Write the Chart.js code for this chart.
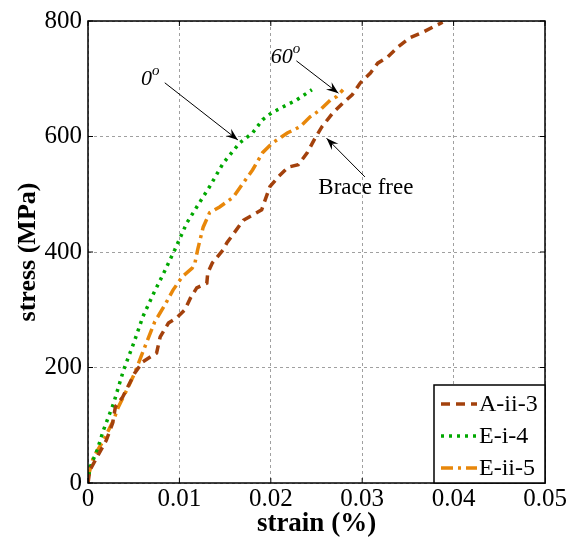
<!DOCTYPE html>
<html>
<head>
<meta charset="utf-8">
<script src="https://cdn.jsdelivr.net/npm/chart.js@4"></script>
<style>
  html, body { margin: 0; padding: 0; background: #fff; }
  #wrap { width: 573px; height: 551px; }
</style>
</head>
<body>
<div id="wrap"><canvas id="myChart" width="573" height="551"></canvas></div>
<script>
// --- data (strain %, stress MPa) ---
const seriesNames = ['A-ii-3', 'E-i-4', 'E-ii-5'];

const aStrain = [0, 0.0002, 0.002, 0.0027, 0.003, 0.0038, 0.0051, 0.006, 0.0075, 0.0079, 0.0088, 0.0097, 0.0106, 0.0112, 0.0119, 0.013, 0.0131, 0.0136, 0.0148, 0.0152, 0.017, 0.018, 0.019, 0.0199, 0.0208, 0.0219, 0.023, 0.024, 0.0248, 0.0256, 0.0268, 0.0279, 0.0289, 0.0298, 0.0309, 0.0317, 0.0328, 0.0339, 0.0352, 0.0367, 0.0378, 0.0388];
const aStress = [0, 22, 74, 104, 132, 149, 190, 210, 225, 253, 277, 286, 300, 320, 338, 346, 364, 381, 404, 416, 455, 464, 473, 513, 530, 547, 551, 572, 596, 617, 641, 658, 672, 693, 710, 727, 738, 755, 771, 781, 790, 798];

const eStrain = [0, 0.0002, 0.001, 0.0017, 0.0028, 0.0039, 0.005, 0.006, 0.0072, 0.0083, 0.0095, 0.0108, 0.0119, 0.0133, 0.0148, 0.0166, 0.018, 0.0191, 0.0201, 0.0213, 0.0228, 0.0245];
const eStress = [0, 26, 57, 92, 138, 196, 242, 288, 329, 364, 404, 450, 478, 513, 554, 589, 606, 629, 641, 651, 663, 681];

const fStrain = [0, 0.0006, 0.0017, 0.0028, 0.0033, 0.0044, 0.0051, 0.0062, 0.0073, 0.0084, 0.0093, 0.0103, 0.0114, 0.0117, 0.012, 0.0126, 0.0133, 0.0144, 0.0159, 0.017, 0.018, 0.0191, 0.0202, 0.0218, 0.0232, 0.0243, 0.0254, 0.0265, 0.0272, 0.0279];
const fStress = [10, 45, 74, 109, 131, 166, 190, 235, 279, 308, 334, 357, 372, 381, 404, 443, 468, 478, 495, 520, 542, 572, 589, 606, 617, 634, 646, 663, 669, 681];

const xTicks = [0, 0.01, 0.02, 0.03, 0.04, 0.05];
const yTicks = [0, 200, 400, 600, 800];

function pts(xs, ys) { return xs.map((x, i) => ({ x: x, y: ys[i] })); }

const serif = '"Liberation Serif", "DejaVu Serif", serif';

// annotations in data units
const notes = [
  { text: '0', sup: 'o', italic: true, tx: 0.0068, ty: 700, ax: 0.0084, ay: 693, bx: 0.0164, by: 594 },
  { text: '60', sup: 'o', italic: true, tx: 0.0216, ty: 737, ax: 0.0228, ay: 731, bx: 0.0274, by: 675 },
  { text: 'Brace free', sup: '', italic: false, tx: 0.0304, ty: 511, ax: 0.0303, ay: 530, bx: 0.0261, by: 597 }
];

function arrow(ctx, x1, y1, x2, y2) {
  const ang = Math.atan2(y2 - y1, x2 - x1);
  const len = 13, w = 0.36;
  ctx.beginPath();
  ctx.moveTo(x1, y1);
  ctx.lineTo(x2, y2);
  ctx.stroke();
  ctx.beginPath();
  ctx.moveTo(x2, y2);
  ctx.lineTo(x2 - len * Math.cos(ang - w), y2 - len * Math.sin(ang - w));
  ctx.lineTo(x2 - len * 0.6 * Math.cos(ang), y2 - len * 0.6 * Math.sin(ang));
  ctx.lineTo(x2 - len * Math.cos(ang + w), y2 - len * Math.sin(ang + w));
  ctx.closePath();
  ctx.fill();
}

const extras = {
  id: 'extras',
  afterDraw(chart) {
    const ctx = chart.ctx;
    const a = chart.chartArea;
    const xs = chart.scales.x, ys = chart.scales.y;
    ctx.save();
    // box + inward ticks
    ctx.strokeStyle = '#000';
    ctx.lineWidth = 1.5;
    ctx.strokeRect(a.left, a.top, a.right - a.left, a.bottom - a.top);
    ctx.lineWidth = 1;
    xTicks.forEach(t => {
      const p = xs.getPixelForValue(t);
      ctx.beginPath();
      ctx.moveTo(p, a.bottom); ctx.lineTo(p, a.bottom - 5);
      ctx.moveTo(p, a.top); ctx.lineTo(p, a.top + 5);
      ctx.stroke();
    });
    yTicks.forEach(t => {
      const p = ys.getPixelForValue(t);
      ctx.beginPath();
      ctx.moveTo(a.left, p); ctx.lineTo(a.left + 5, p);
      ctx.moveTo(a.right, p); ctx.lineTo(a.right - 5, p);
      ctx.stroke();
    });

    // annotations
    ctx.fillStyle = '#000';
    ctx.lineWidth = 1;
    notes.forEach(n => {
      arrow(ctx, xs.getPixelForValue(n.ax), ys.getPixelForValue(n.ay),
                 xs.getPixelForValue(n.bx), ys.getPixelForValue(n.by));
      const px = xs.getPixelForValue(n.tx), py = ys.getPixelForValue(n.ty);
      ctx.textBaseline = 'middle';
      if (n.italic) {
        ctx.font = 'italic 22px ' + serif;
        const w1 = ctx.measureText(n.text).width;
        ctx.font = 'italic 15px ' + serif;
        const w2 = ctx.measureText(n.sup).width;
        const x0 = px - (w1 + w2) / 2;
        ctx.font = 'italic 22px ' + serif;
        ctx.textAlign = 'left';
        ctx.fillText(n.text, x0, py);
        ctx.font = 'italic 15px ' + serif;
        ctx.fillText(n.sup, x0 + w1, py - 8);
      } else {
        ctx.font = '23px ' + serif;
        ctx.textAlign = 'center';
        ctx.fillText(n.text, px, py);
      }
    });

    // legend box
    const lx = a.right - 111, ly = a.bottom - 98;
    ctx.fillStyle = '#fff';
    ctx.fillRect(lx, ly, 111, 98);
    ctx.lineWidth = 1.5;
    ctx.strokeStyle = '#000';
    ctx.strokeRect(lx, ly, 111, 98);
    chart.data.datasets.forEach((ds, i) => {
      const yy = ly + 19 + i * 32;
      ctx.save();
      ctx.strokeStyle = ds.borderColor;
      ctx.lineWidth = ds.borderWidth;
      ctx.setLineDash(ds.borderDash);
      ctx.beginPath();
      ctx.moveTo(lx + 7, yy); ctx.lineTo(lx + 43, yy);
      ctx.stroke();
      ctx.restore();
      ctx.fillStyle = '#000';
      ctx.font = '24px ' + serif;
      ctx.textAlign = 'left';
      ctx.textBaseline = 'middle';
      ctx.fillText(ds.label, lx + 45, yy + 1);
    });
    ctx.restore();
  }
};

const ctx = document.getElementById('myChart').getContext('2d');
const myChart = new Chart(ctx, {
  type: 'scatter',
  data: {
    datasets: [
      { label: seriesNames[0], data: pts(aStrain, aStress), showLine: true, borderColor: '#A3410C', borderWidth: 3.5, borderDash: [9, 6], pointRadius: 0, tension: 0 },
      { label: seriesNames[1], data: pts(eStrain, eStress), showLine: true, borderColor: '#00A800', borderWidth: 3.5, borderDash: [3, 5], pointRadius: 0, tension: 0 },
      { label: seriesNames[2], data: pts(fStrain, fStress), showLine: true, borderColor: '#E8870A', borderWidth: 3.5, borderDash: [12, 5, 3, 5], pointRadius: 0, tension: 0 }
    ]
  },
  options: {
    responsive: false,
    animation: false,
    layout: { padding: { top: 21, right: 28, left: 0, bottom: 0 } },
    plugins: { legend: { display: false }, tooltip: { enabled: false } },
    scales: {
      x: {
        type: 'linear', min: 0, max: 0.05,
        afterBuildTicks: s => { s.ticks = xTicks.map(v => ({ value: v })); },
        afterFit: s => { s.height = 68; },
        ticks: { color: '#000', font: { family: serif, size: 25 }, padding: 1, maxRotation: 0, callback: v => String(v) },
        grid: { color: '#a0a0a0', lineWidth: 1, drawTicks: false },
        border: { display: false, dash: [3, 3] },
        title: { display: true, text: 'strain (%)', color: '#000', font: { family: serif, size: 27, weight: 'bold' }, padding: { top: 0, bottom: 11 } }
      },
      y: {
        type: 'linear', min: 0, max: 800,
        afterBuildTicks: s => { s.ticks = yTicks.map(v => ({ value: v })); },
        afterFit: s => { s.width = 88; },
        ticks: { color: '#000', font: { family: serif, size: 25 }, padding: 6 },
        grid: { color: '#a0a0a0', lineWidth: 1, drawTicks: false },
        border: { display: false, dash: [3, 3] },
        title: { display: true, text: 'stress (MPa)', color: '#000', font: { family: serif, size: 26, weight: 'bold' }, padding: { top: 13, bottom: 0 } }
      }
    }
  },
  plugins: [extras]
});
</script>
</body>
</html>
